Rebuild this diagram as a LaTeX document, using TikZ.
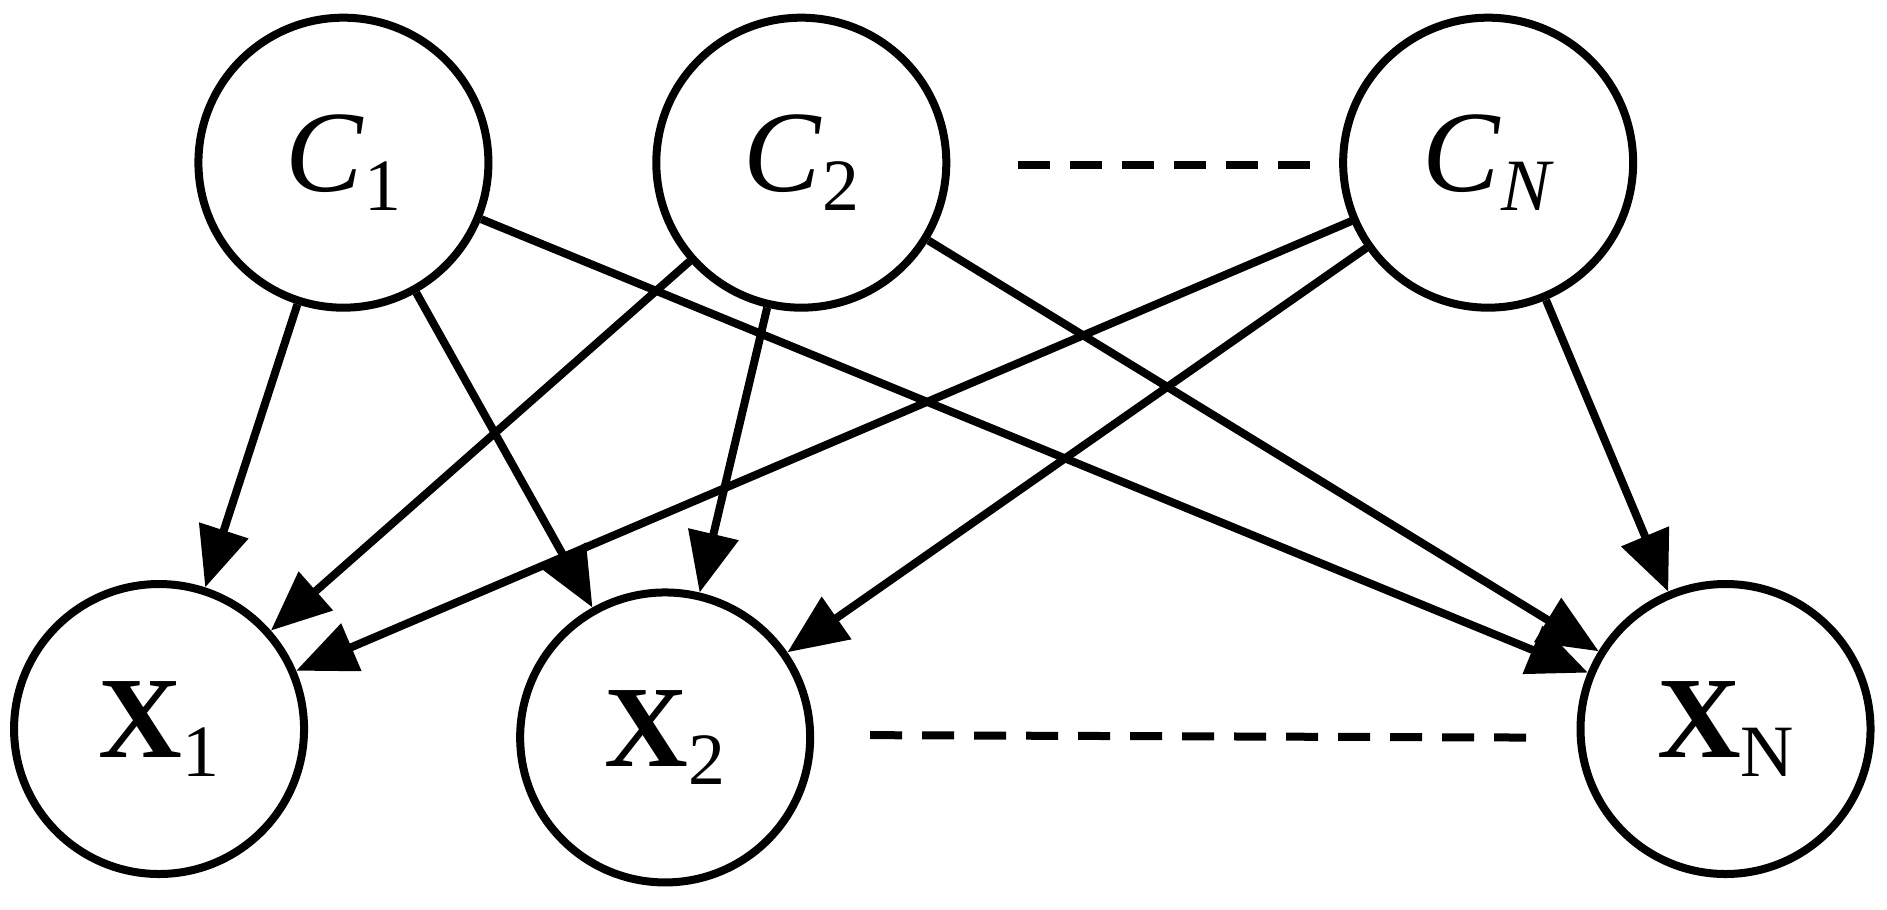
\documentclass[tikz,border=0pt]{standalone}
\usepackage{fontspec}
\setmainfont{Liberation Serif}
\usetikzlibrary{arrows.meta}
\newcommand{\lbl}[2]{#1\raisebox{-0.35ex}{\fontsize{21}{24}\selectfont #2}}
\begin{document}
\begin{tikzpicture}[scale=1.205,
  st/.style={circle,draw,line width=0.08cm,minimum size=2.9cm,inner sep=0pt,font=\fontsize{33}{36}\selectfont},
  ar/.style={line width=0.08cm,-{Triangle[length=0.6cm,width=0.5cm]}},
  dl/.style={line width=0.08cm,dash pattern=on 0.32cm off 0.2cm}]
\useasboundingbox (0,0) rectangle (15.66,-7.55);
\node[st] (c1) at (2.85,-1.35) {\lbl{\textit{C}}{1}};
\node[st] (c2) at (6.65,-1.35) {\lbl{\textit{C}}{2}};
\node[st] (cn) at (12.35,-1.35) {\lbl{\textit{C}}{\textit{N}}};
\node[st] (x1) at (1.32,-6.05) {\lbl{\textbf{X}}{1}};
\node[st] (x2) at (5.52,-6.12) {\lbl{\textbf{X}}{2}};
\node[st] (xn) at (14.32,-6.05) {\lbl{\textbf{X}}{N}};
\draw[ar] (c1) -- (x1);
\draw[ar] (c1) -- (x2);
\draw[ar] (c1) -- (xn);
\draw[ar] (c2) -- (x1);
\draw[ar] (c2) -- (x2);
\draw[ar] (c2) -- (xn);
\draw[ar] (cn) -- (x1);
\draw[ar] (cn) -- (x2);
\draw[ar] (cn) -- (xn);
\coordinate (d1) at (8.45,-1.37); \coordinate (d2) at (10.95,-1.37);
\coordinate (d3) at (7.22,-6.10); \coordinate (d4) at (12.68,-6.12);
\draw[dl] (d1) -- (d2);
\draw[dl] (d3) -- (d4);
\end{tikzpicture}
\end{document}
